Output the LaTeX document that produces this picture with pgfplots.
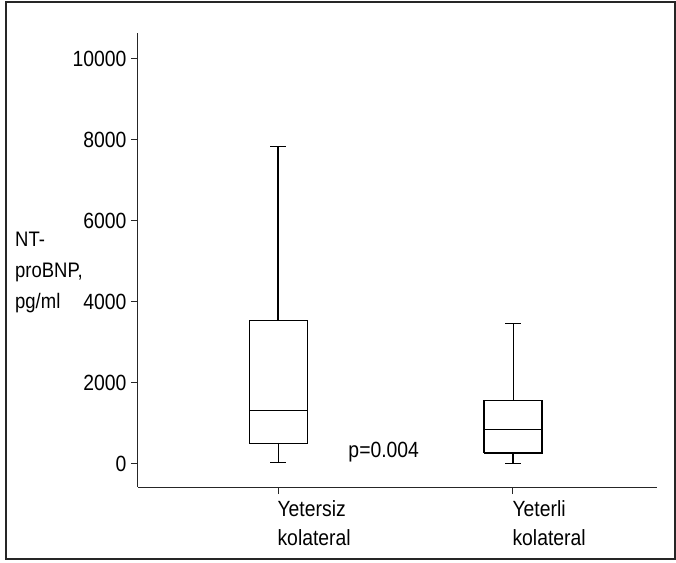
\documentclass[border=0pt]{standalone}
\usepackage{fontspec}
\setmainfont{Liberation Sans}[FakeStretch=0.88]
\usepackage{pgfplots}
\pgfplotsset{compat=1.18}
\begin{document}
\fontsize{22}{26}\selectfont
\begin{tikzpicture}
\useasboundingbox (-138pt,-75pt) rectangle (538pt,487pt);
\draw[line width=1.2pt, black!85] (-132pt,-72pt) rectangle (537pt,485pt);
\node[align=left, anchor=west, font=\fontsize{21}{31}\selectfont, inner sep=0pt] at (-123pt,215pt) {NT-\\proBNP,\\pg/ml};
\begin{axis}[
  at={(0pt,0pt)}, anchor=south west,
  scale only axis, width=519pt, height=454pt,
  axis x line=bottom, axis y line=left,
  axis line style={-, line width=1pt, black!85},
  xmin=0.404, xmax=2.613, ymin=-570, ymax=10640,
  xtick={1,2}, xticklabels={{Yetersiz\\kolateral},{Yeterli\\kolateral}},
  xticklabel style={align=left, anchor=north west, xshift=-8pt, yshift=1pt, font=\fontsize{22}{29}\selectfont},
  ytick={0,2000,4000,6000,8000,10000},
  scaled y ticks=false,
  yticklabel style={/pgf/number format/1000 sep={}, /pgf/number format/assume math mode=true, font=\fontsize{22}{26}\selectfont, xshift=3pt},
  tick align=outside, major tick length=7pt,
  tick style={black!85, line width=1pt},
  clip=false,
  cycle list={{black, solid, line width=1.1pt, mark=none}},
]
% Yetersiz kolateral: whiskers 50 / 7850, quartiles 520 / 3550, median 1330
\addplot coordinates {(0.8765,520) (1.1235,520) (1.1235,3550) (0.8765,3550) (0.8765,520)};
\addplot coordinates {(0.8765,1330) (1.1235,1330)};
\addplot coordinates {(1,3550) (1,7850)};
\addplot coordinates {(0.9675,7850) (1.0325,7850)};
\addplot coordinates {(1,520) (1,50)};
\addplot coordinates {(0.9675,50) (1.0325,50)};
% Yeterli kolateral: whiskers 20 / 3480, quartiles 270 / 1570, median 865
\addplot coordinates {(1.8765,270) (2.1235,270) (2.1235,1570) (1.8765,1570) (1.8765,270)};
\addplot coordinates {(1.8765,865) (2.1235,865)};
\addplot coordinates {(2,1570) (2,3480)};
\addplot coordinates {(1.9675,3480) (2.0325,3480)};
\addplot coordinates {(2,270) (2,20)};
\addplot coordinates {(1.9675,20) (2.0325,20)};
\node[font=\fontsize{22}{26}\selectfont] at (axis cs:1.45,300) {p=0.004};
\end{axis}
\end{tikzpicture}
\end{document}
